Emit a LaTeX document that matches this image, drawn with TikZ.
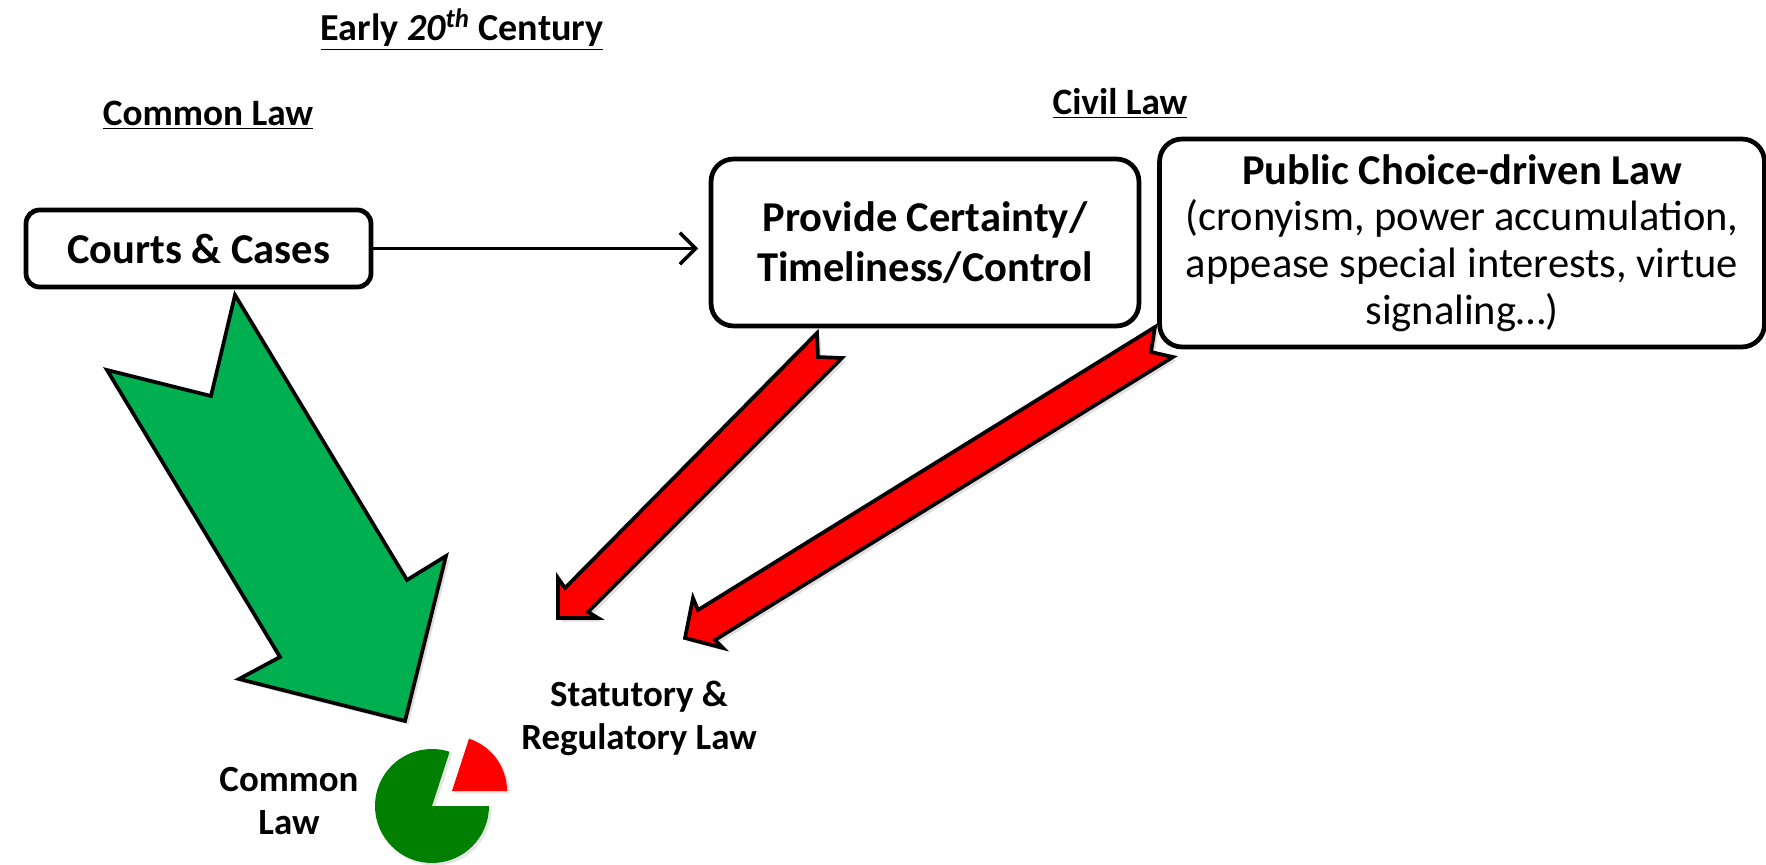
\documentclass[tikz,border=0pt]{standalone}
\usepackage{fontspec}
\setmainfont{Carlito}
\usetikzlibrary{arrows.meta,shadows}
\definecolor{arrowgreen}{HTML}{00B050}
\definecolor{piegreen}{HTML}{008000}
\definecolor{lawred}{HTML}{FF0000}
\begin{document}
\begin{tikzpicture}[x=0.02cm,y=-0.02cm,
		lawbox/.style={draw,line width=2.7pt,align=center,inner sep=0pt},
		heading/.style={anchor=base,font=\fontsize{21.2}{24}\selectfont\bfseries},
		lawlabel/.style={align=center,font=\fontsize{21}{24.4}\selectfont\bfseries},
		blockarrow/.style={draw,line width=2.1pt,line join=miter,
			drop shadow={opacity=0.25,shadow xshift=2pt,shadow yshift=-2pt}}]
	\useasboundingbox (0,0) rectangle (1766,865);
	% headings
	\node[heading,font=\fontsize{21.7}{24}\selectfont\bfseries] (title) at (462,41)
		{\underline{Early \textit{20\textsuperscript{th}} Century}};
	\node[heading] (comhead) at (208,126) {\underline{Common Law}};
	\node[heading] (civhead) at (1120,115) {\underline{Civil Law}};
	% boxes
	\node[lawbox,rounded corners=0.27cm,minimum width=6.9cm,minimum height=1.54cm,
		font=\fontsize{24.2}{29}\selectfont\bfseries] (courts) at (198.5,248.5) {Courts \& Cases};
	\node[lawbox,rounded corners=0.45cm,minimum width=8.56cm,minimum height=3.34cm,
		font=\fontsize{24.2}{28.3}\selectfont\bfseries] (certainty) at (925,242.5) {Provide Certainty/\\Timeliness/Control};
	\node[lawbox,rounded corners=0.45cm,minimum width=12.1cm,minimum height=4.16cm,
		font=\fontsize{24.2}{26.6}\selectfont] (publicchoice) at (1462,243)
		{\textbf{Public Choice-driven Law}\\(cronyism, power accumulation,\\appease special interests, virtue\\signaling\ldots)};
	\draw[line width=2pt,-{Straight Barb[length=9pt,width=18pt,line width=2pt]},shorten >=6pt]
		(courts.east) -- (courts.east -| certainty.west);
	% block arrows
	\filldraw[blockarrow,fill=arrowgreen] (235,295) -- (407,580) -- (446,556) -- (405,721)
		-- (239,679) -- (280,657) -- (107,370) -- (211,396) -- cycle;
	\filldraw[blockarrow,fill=lawred] (817,333) -- (818,357) -- (842,358) -- (588,612)
		-- (598,618) -- (558,618) -- (558,578) -- (565,588) -- cycle;
	\filldraw[blockarrow,fill=lawred] (1155,327) -- (1151,352) -- (1173,357) -- (715,640)
		-- (723,648) -- (685,638) -- (693,598) -- (698,610) -- cycle;
	% pie
	\coordinate (piec) at (432,806);
	\coordinate (slicec) at (452,791);
	\fill[piegreen,drop shadow={opacity=0.2,shadow xshift=1.5pt,shadow yshift=-1.5pt}]
		(piec) -- ++(0:57) arc[start angle=0,end angle=288,radius=57] -- cycle;
	\fill[lawred,drop shadow={opacity=0.2,shadow xshift=1.5pt,shadow yshift=-1.5pt}]
		(slicec) -- ++(0:55) arc[start angle=0,end angle=-72,radius=55] -- cycle;
	\node[lawlabel] (statlab) at (639,718) {Statutory \&\\Regulatory Law};
	\node[lawlabel] (comlab) at (289,801) {Common\\Law};
\end{tikzpicture}
\end{document}
